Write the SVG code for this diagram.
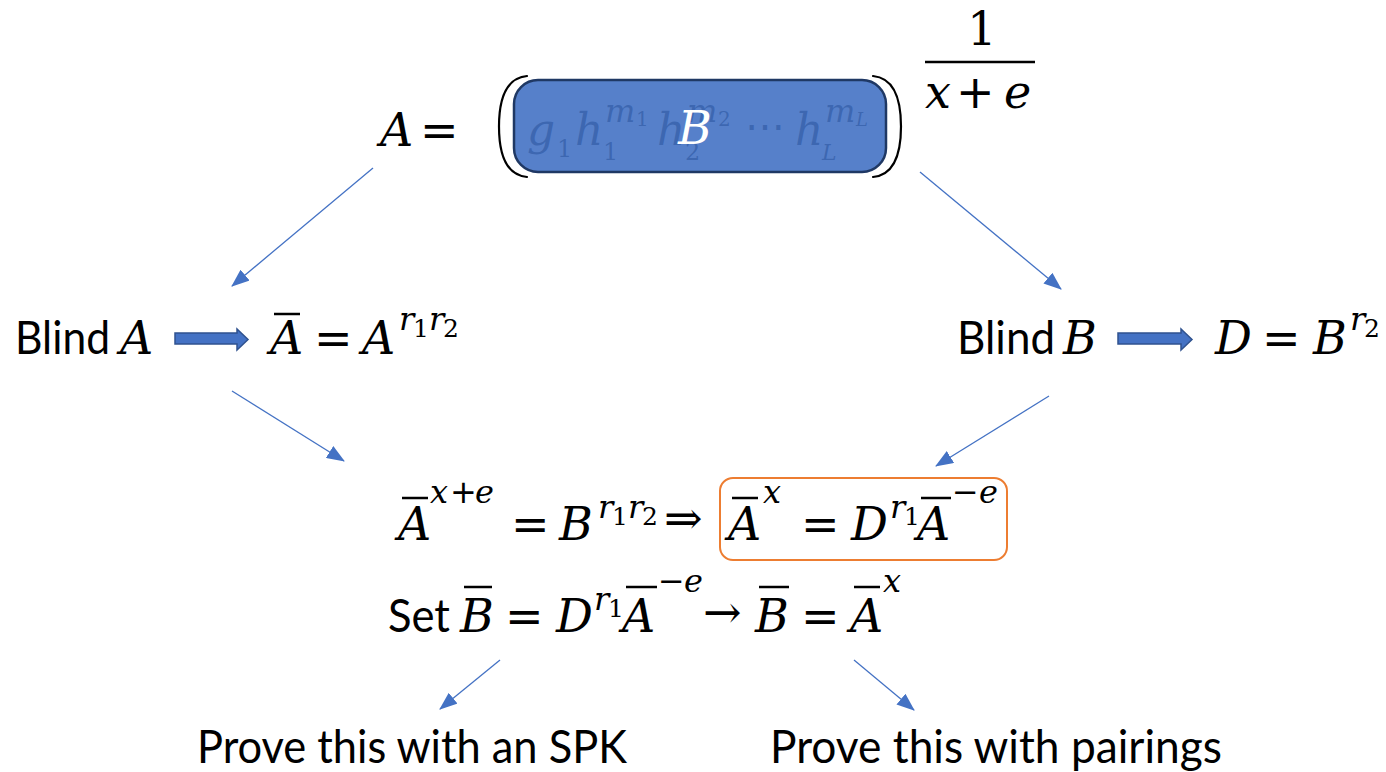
<svg xmlns="http://www.w3.org/2000/svg" width="1386" height="772" viewBox="0 0 1386 772">
<style>
.m{font-family:"DejaVu Serif",serif;font-style:italic;font-size:46px;fill:#000}
.u{font-family:"DejaVu Serif",serif;font-style:normal;font-size:46px;fill:#000}
.o{font-family:"DejaVu Sans",sans-serif;font-style:normal;font-size:46px;fill:#000}
.sp{font-size:32px}
.sd{font-size:25px}
.t{font-family:Lato,"Open Sans",sans-serif;font-size:46px;fill:#000}
.bar{stroke:#000;stroke-width:2.5}
.paren{fill:none;stroke:#000;stroke-width:2.2;stroke-linecap:round}
.conn{stroke:#4472C4;stroke-width:1.3;fill:none}
.blk{fill:#4472C4;stroke:#2F528F;stroke-width:1.5}
</style>
<defs>
<marker id="ah" markerUnits="userSpaceOnUse" markerWidth="18" markerHeight="14" viewBox="0 0 18 14" refX="17" refY="7" orient="auto">
<path d="M0,0 L18,7 L0,14 Z" fill="#4472C4"/>
</marker>
</defs>
<rect width="1386" height="772" fill="#fff"/>

<g id="formula-top">
<text class="m" x="380" y="146">A</text>
<text class="o" x="420" y="146">=</text>
<text class="u" x="982" y="45" text-anchor="middle">1</text>
<line class="bar" x1="925" y1="62" x2="1035" y2="62"/>
<text class="m" x="925" y="108">x</text>
<text class="o" x="956" y="108">+</text>
<text class="m" x="1004" y="108">e</text>
</g>

<g id="node-B">
<text class="m" x="527" y="145" style="font-size:44px">g</text>
<text class="u" x="557" y="157" style="font-size:24px">1</text>
<text class="m" x="575" y="145" style="font-size:44px">h</text>
<text class="u" x="603" y="160" style="font-size:24px">1</text>
<text class="m" x="605" y="122" style="font-size:32px">m</text>
<text class="u" x="636" y="126" style="font-size:20px">1</text>
<text class="m" x="657" y="145" style="font-size:44px">h</text>
<text class="u" x="685" y="160" style="font-size:24px">2</text>
<text class="m" x="687" y="122" style="font-size:32px">m</text>
<text class="u" x="718" y="126" style="font-size:20px">2</text>
<text class="u" x="745" y="140" style="font-size:40px">⋯</text>
<text class="m" x="795" y="145" style="font-size:44px">h</text>
<text class="m" x="822" y="160" style="font-size:22px">L</text>
<text class="m" x="825" y="122" style="font-size:32px">m</text>
<text class="m" x="856" y="126" style="font-size:18px">L</text>
<rect x="514" y="80" width="372" height="92" rx="24" fill="#4472C4" fill-opacity="0.9" stroke="#1F3864" stroke-width="2.5"/>
<text class="m" x="678" y="144" style="fill:#fff">B</text>
</g>

<g id="parens">
<path class="paren" d="M527,76 C506,78 499,98 499,126.5 C499,155 506,175 527,177"/>
<path class="paren" d="M873,76 C894,78 901,98 901,126.5 C901,155 894,175 873,177"/>
</g>

<g id="node-blindA">
<text class="t" x="15" y="354" textLength="95" lengthAdjust="spacingAndGlyphs">Blind</text>
<text class="m" x="120" y="354">A</text>
<path class="blk" d="M175,333 H237 V329 L248,339.5 L237,350 V344 H175 Z"/>
<text class="m" x="270" y="354">A</text>
<line class="bar" x1="274" y1="314" x2="300" y2="314"/>
<text class="o" x="314" y="354">=</text>
<text class="m" x="362" y="354">A</text>
<text class="m sp" x="399" y="330">r</text>
<text class="u sd" x="413" y="337">1</text>
<text class="m sp" x="429" y="330">r</text>
<text class="u sd" x="443" y="337">2</text>
</g>

<g id="node-blindB">
<text class="t" x="957" y="354" textLength="98" lengthAdjust="spacingAndGlyphs">Blind</text>
<text class="m" x="1063" y="354">B</text>
<path class="blk" d="M1118,333 H1181 V329 L1192,339.5 L1181,350 V344 H1118 Z"/>
<text class="m" x="1215" y="354">D</text>
<text class="o" x="1262" y="354">=</text>
<text class="m" x="1313" y="354">B</text>
<text class="m sp" x="1350" y="330">r</text>
<text class="u sd" x="1364" y="337">2</text>
</g>

<g id="node-equation">
<text class="m" x="398" y="540">A</text>
<line class="bar" x1="402" y1="498" x2="428" y2="498"/>
<text class="m sp" x="430" y="503">x</text>
<text class="o sp" x="450" y="503">+</text>
<text class="m sp" x="475" y="503">e</text>
<text class="o" x="511" y="540">=</text>
<text class="m" x="559" y="540">B</text>
<text class="m sp" x="598" y="518">r</text>
<text class="u sd" x="612" y="525">1</text>
<text class="m sp" x="628" y="518">r</text>
<text class="u sd" x="642" y="525">2</text>
<text class="u" x="664" y="534">⇒</text>
</g>

<g id="node-boxed">
<rect x="720" y="478" width="287" height="82" rx="13" fill="none" stroke="#ED7D31" stroke-width="2"/>
<text class="m" x="728" y="540">A</text>
<line class="bar" x1="732" y1="498" x2="758" y2="498"/>
<text class="m sp" x="763" y="503">x</text>
<text class="o" x="801" y="540">=</text>
<text class="m" x="851" y="540">D</text>
<text class="m sp" x="890" y="518">r</text>
<text class="u sd" x="904" y="525">1</text>
<text class="m" x="917" y="540">A</text>
<line class="bar" x1="921" y1="498" x2="951" y2="498"/>
<text class="o sp" x="952" y="503">−</text>
<text class="m sp" x="979" y="503">e</text>
</g>

<g id="node-set">
<text class="t" x="388" y="632" textLength="62" lengthAdjust="spacingAndGlyphs">Set</text>
<text class="m" x="460" y="632">B</text>
<line class="bar" x1="464" y1="587" x2="492" y2="587"/>
<text class="o" x="505" y="632">=</text>
<text class="m" x="556" y="632">D</text>
<text class="m sp" x="594" y="610">r</text>
<text class="u sd" x="608" y="617">1</text>
<text class="m" x="622" y="632">A</text>
<line class="bar" x1="626" y1="587" x2="657" y2="587"/>
<text class="o sp" x="658" y="592">−</text>
<text class="m sp" x="684" y="592">e</text>
<text class="u" x="703" y="628">→</text>
<text class="m" x="755" y="632">B</text>
<line class="bar" x1="759" y1="587" x2="789" y2="587"/>
<text class="o" x="801" y="632">=</text>
<text class="m" x="850" y="632">A</text>
<line class="bar" x1="854" y1="587" x2="880" y2="587"/>
<text class="m sp" x="883" y="592">x</text>
</g>

<g id="node-spk">
<text class="t" x="197" y="763" textLength="430" lengthAdjust="spacingAndGlyphs">Prove this with an SPK</text>
</g>
<g id="node-pairings">
<text class="t" x="770" y="763" textLength="452" lengthAdjust="spacingAndGlyphs">Prove this with pairings</text>
</g>

<g id="connectors">
<line class="conn" x1="373" y1="168" x2="232" y2="286" marker-end="url(#ah)"/>
<line class="conn" x1="920" y1="172" x2="1061" y2="289" marker-end="url(#ah)"/>
<line class="conn" x1="232" y1="391" x2="344" y2="461" marker-end="url(#ah)"/>
<line class="conn" x1="1049" y1="396" x2="936" y2="466" marker-end="url(#ah)"/>
<line class="conn" x1="500" y1="660" x2="440" y2="709" marker-end="url(#ah)"/>
<line class="conn" x1="854" y1="660" x2="914" y2="710" marker-end="url(#ah)"/>
</g>
</svg>
